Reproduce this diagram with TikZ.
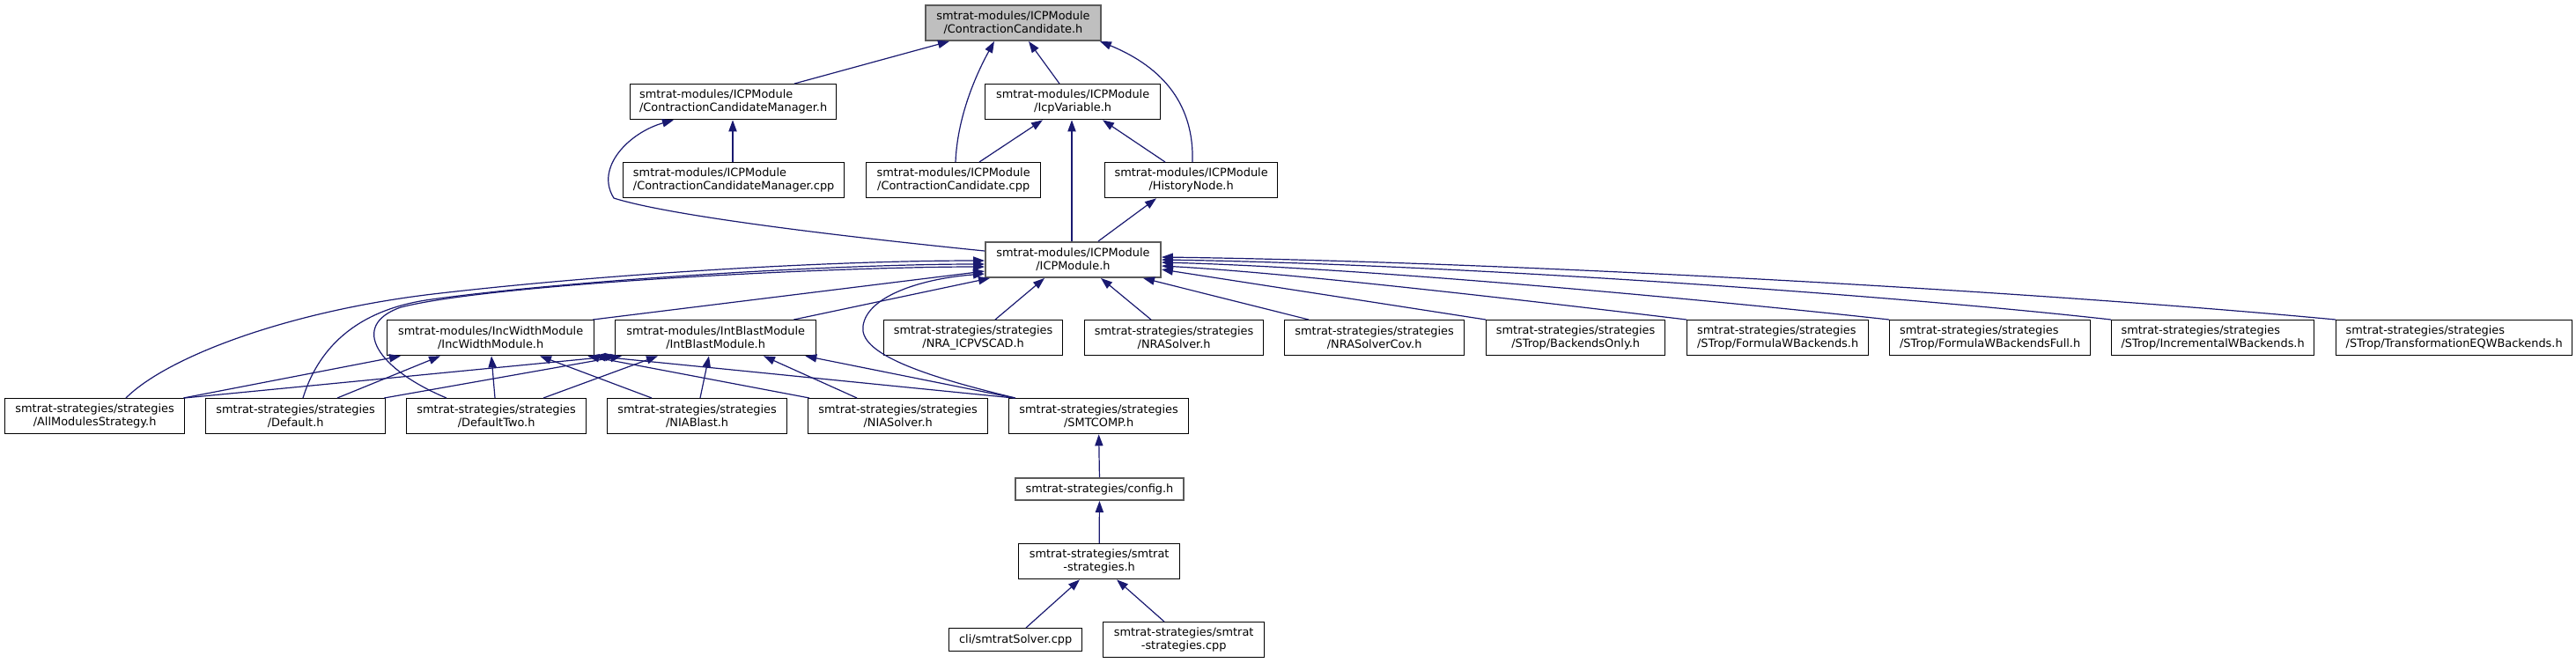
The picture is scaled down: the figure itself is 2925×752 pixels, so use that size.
\documentclass[tikz,border=0pt]{standalone}
\usepackage{fontspec}
\setmainfont{DejaVu Sans}
\usetikzlibrary{arrows.meta,calc}
\definecolor{edgec}{HTML}{191970}
\definecolor{bordg}{HTML}{5A5A5A}
\definecolor{rootfill}{HTML}{BFBFBF}
\tikzset{
  x=0.5pt, y=-0.5pt,
  box/.style={draw=black, line width=0.65pt, fill=white, inner sep=0pt, anchor=north west,
    align=center, font=\fontsize{6.45}{7.3}\selectfont, minimum height=20pt},
  lbox/.style={box, align=left},
  gbox/.style={box, draw=bordg, line width=0.95pt},
  edge/.style={draw=edgec, line width=0.6pt, -{Triangle[length=6.5pt,width=4.6pt]}},
}
\begin{document}
\begin{tikzpicture}
\useasboundingbox (0,0) rectangle (2925,752);
% row 0
\node[gbox, fill=rootfill, minimum width=99.5pt] (top) at (1050,5) {smtrat-modules/ICPModule\\/ContractionCandidate.h};
% row 1
\node[lbox, minimum width=117pt] (ccmh) at (715,95) {smtrat-modules/ICPModule\\/ContractionCandidateManager.h};
\node[box, minimum width=99.5pt] (icpv) at (1118,95) {smtrat-modules/ICPModule\\/IcpVariable.h};
% row 2
\node[lbox, minimum width=125.5pt] (ccmcpp) at (707,184) {smtrat-modules/ICPModule\\/ContractionCandidateManager.cpp};
\node[box, minimum width=99pt] (cccpp) at (983,184) {smtrat-modules/ICPModule\\/ContractionCandidate.cpp};
\node[box, minimum width=98pt] (hist) at (1254,184) {smtrat-modules/ICPModule\\/HistoryNode.h};
% row 3
\node[gbox, minimum width=99.5pt] (icpm) at (1118,274) {smtrat-modules/ICPModule\\/ICPModule.h};
% row 4
\node[box, minimum width=117.5pt] (inc) at (439,363) {smtrat-modules/IncWidthModule\\/IncWidthModule.h};
\node[box, minimum width=114pt] (intb) at (698,363) {smtrat-modules/IntBlastModule\\/IntBlastModule.h};
\node[box, minimum width=101.5pt] (nraicp) at (1003,363) {smtrat-strategies/strategies\\/NRA\_ICPVSCAD.h};
\node[box, minimum width=101.5pt] (nras) at (1231,363) {smtrat-strategies/strategies\\/NRASolver.h};
\node[box, minimum width=102pt] (nrasc) at (1458,363) {smtrat-strategies/strategies\\/NRASolverCov.h};
\node[box, minimum width=101.5pt] (bonly) at (1687,363) {smtrat-strategies/strategies\\/STrop/BackendsOnly.h};
\node[lbox, minimum width=103pt] (fwb) at (1915,363) {smtrat-strategies/strategies\\/STrop/FormulaWBackends.h};
\node[lbox, minimum width=114pt] (fwbf) at (2145,363) {smtrat-strategies/strategies\\/STrop/FormulaWBackendsFull.h};
\node[lbox, minimum width=115pt] (incwb) at (2397,363) {smtrat-strategies/strategies\\/STrop/IncrementalWBackends.h};
\node[lbox, minimum width=134pt] (teqw) at (2652,363) {smtrat-strategies/strategies\\/STrop/TransformationEQWBackends.h};
% row 5
\node[box, minimum width=102pt] (allm) at (5,452) {smtrat-strategies/strategies\\/AllModulesStrategy.h};
\node[box, minimum width=102pt] (def) at (233,452) {smtrat-strategies/strategies\\/Default.h};
\node[box, minimum width=102pt] (deft) at (461,452) {smtrat-strategies/strategies\\/DefaultTwo.h};
\node[box, minimum width=102pt] (niab) at (689,452) {smtrat-strategies/strategies\\/NIABlast.h};
\node[box, minimum width=102pt] (nias) at (917,452) {smtrat-strategies/strategies\\/NIASolver.h};
\node[box, minimum width=102pt] (smtc) at (1145,452) {smtrat-strategies/strategies\\/SMTCOMP.h};
% lower
\node[gbox, minimum width=95.5pt, minimum height=12.5pt] (config) at (1152,542) {smtrat-strategies/config.h};
\node[box, minimum width=91.5pt] (strath) at (1156,617) {smtrat-strategies/smtrat\\-strategies.h};
\node[box, minimum width=75.5pt, minimum height=13pt] (solver) at (1077,713) {cli/smtratSolver.cpp};
\node[box, minimum width=91.5pt] (stratcpp) at (1252,706) {smtrat-strategies/smtrat\\-strategies.cpp};

% edges to top
\draw[edge] ($(ccmh.north west)+(187,0)$) -- ($(top.south west)+(28,0)$);
\draw[edge] ($(cccpp.north west)+(102,0)$) .. controls +(2,-50) and +(-22,40) .. ($(top.south west)+(79,0)$);
\draw[edge] ($(icpv.north west)+(85,0)$) -- ($(top.south west)+(118,0)$);
\draw[edge] ($(hist.north west)+(100,0)$) .. controls +(2,-64) and +(73,30) .. ($(top.south east)+(-2,0)$);
% edges to ccmh
\draw[edge] ($(ccmcpp.north west)+(125,0)$) -- ($(ccmh.south west)+(117,0)$);
\draw[edge] ($(icpm.north west)+(0,11)$) .. controls +(-168,-17) and +(63,20) .. ($(icpm.north west)+(-421,-49)$)
   .. controls +(-22,-35) and +(-50,14) .. ($(ccmh.south west)+(50,0)$);
% edges to icpv
\draw[edge] ($(cccpp.north west)+(129,0)$) -- ($(icpv.south west)+(66,0)$);
\draw[edge] ($(hist.north west)+(69,0)$) -- ($(icpv.south west)+(134,0)$);
\draw[edge] ($(icpm.north west)+(99,0)$) -- ($(icpv.south west)+(99,0)$);
% edge to hist
\draw[edge] ($(icpm.north west)+(129,0)$) -- ($(hist.south west)+(59,0)$);

% edges to icpm
\draw[edge] ($(inc.north east)+(-2,0)$) -- ($(icpm.north west)+(0,34)$);
\draw[edge] ($(intb.north east)+(-26,0)$) -- ($(icpm.south west)+(6,0)$);
\draw[edge] ($(nraicp.north west)+(127,0)$) -- ($(icpm.south west)+(68,0)$);
\draw[edge] ($(nras.north west)+(76,0)$) -- ($(icpm.south west)+(132,0)$);
\draw[edge] ($(nrasc.north west)+(28,0)$) -- ($(icpm.south west)+(180,0)$);
\draw[edge] (bonly.north west) -- ($(icpm.north east)+(0,32)$);
\draw[edge] (fwb.north west) .. controls +(-150,-18) and +(150,8) .. ($(icpm.north east)+(0,28)$);
\draw[edge] (fwbf.north west) .. controls +(-200,-22) and +(230,6) .. ($(icpm.north east)+(0,24)$);
\draw[edge] (incwb.north west) .. controls +(-250,-28) and +(330,5) .. ($(icpm.north east)+(0,21)$);
\draw[edge] (teqw.north west) .. controls +(-350,-33) and +(380,5) .. ($(icpm.north east)+(0,18)$);
\draw[edge] ($(allm.north west)+(138,0)$) .. controls +(47,-47) and +(-170,19) .. ($(icpm.north west)+(-618,59)$)
   .. controls +(200,-23) and +(-168,0) .. ($(icpm.north west)+(0,22)$);
\draw[edge] ($(def.north west)+(111,0)$) .. controls +(16,-52) and +(-90,12) .. ($(icpm.north west)+(-628,66)$)
   .. controls +(160,-22) and +(-168,0) .. ($(icpm.north west)+(0,26)$);
\draw[edge] ($(deft.north west)+(46,0)$) .. controls +(-77,-32) and +(-60,21) .. ($(icpm.north west)+(-663,75)$)
   .. controls +(105,-27) and +(-168,0) .. ($(icpm.north west)+(0,29)$);
\draw[edge] ($(smtc.north west)+(8,0)$) .. controls +(-113,-27) and +(-5,30) .. ($(smtc.north west)+(-165,-82)$)
   .. controls +(5,-35) and +(-68,5) .. ($(icpm.north west)+(0,37)$);

% edges to inc / intb
\draw[edge] ($(allm.north east)+(-2,0)$) -- ($(inc.south west)+(16,0)$);
\draw[edge] ($(allm.north east)+(-1,0)$) -- ($(intb.south west)+(2,0)$);
\draw[edge] ($(def.north west)+(150,0)$) -- ($(inc.south west)+(61,0)$);
\draw[edge] ($(def.north east)+(-2,0)$) -- ($(intb.south west)+(8,0)$);
\draw[edge] ($(deft.north west)+(101,0)$) -- ($(inc.south west)+(119,0)$);
\draw[edge] ($(deft.north west)+(156,0)$) -- ($(intb.south west)+(49,0)$);
\draw[edge] ($(niab.north west)+(51,0)$) -- ($(inc.south west)+(174,0)$);
\draw[edge] ($(niab.north west)+(106,0)$) -- ($(intb.south west)+(107,0)$);
\draw[edge] ($(nias.north west)+(2,0)$) -- ($(inc.south east)+(-8,0)$);
\draw[edge] ($(nias.north west)+(56,0)$) -- ($(intb.south west)+(169,0)$);
\draw[edge] ($(smtc.north west)+(6,0)$) -- ($(inc.south east)+(-1,0)$);
\draw[edge] ($(smtc.north west)+(7,0)$) -- ($(intb.south east)+(-13,0)$);

% lower chain
\draw[edge] (config.north) -- (smtc.south);
\draw[edge] (strath.north) -- (config.south);
\draw[edge] ($(solver.north west)+(88,0)$) -- ($(strath.south west)+(70,0)$);
\draw[edge] ($(stratcpp.north west)+(70,0)$) -- ($(strath.south west)+(112,0)$);
\end{tikzpicture}
\end{document}
